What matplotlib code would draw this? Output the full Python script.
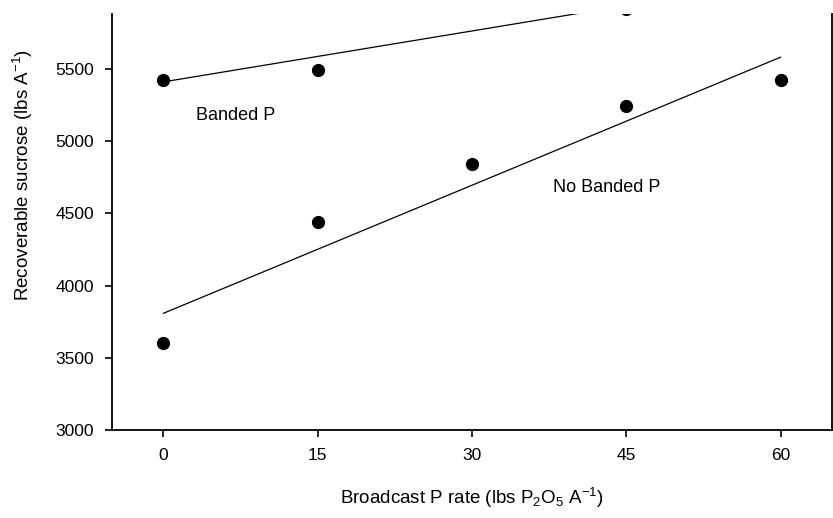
import matplotlib
matplotlib.use("Agg")
import matplotlib.pyplot as plt
import numpy as np

plt.rcParams['font.family'] = ['Liberation Sans', 'DejaVu Sans']
plt.rcParams['mathtext.fontset'] = 'custom'
plt.rcParams['mathtext.rm'] = 'Liberation Sans'
plt.rcParams['mathtext.it'] = 'Liberation Sans'

# Data
rates = [0, 15, 30, 45, 60]
no_banded = [3600, 4440, 4840, 5240, 5420]
banded_rates = [0, 15, 45]
banded = [5425, 5490, 5915]
# regression fits: intercept, slope
banded_fit = [5410, 11.75]
no_banded_fit = [3808, 29.55]
fit_range = [0, 60]
xticks = [0, 15, 30, 45, 60]
yticks = [3000, 3500, 4000, 4500, 5000, 5500]

fig = plt.figure(figsize=(8.33, 5.18), dpi=100)
ax = fig.add_axes([0.1345, 0.1699, 0.8643, 0.8031])

xf = np.array(fit_range, dtype=float)
ax.plot(xf, banded_fit[0] + banded_fit[1] * xf, color='black', lw=0.9)
ax.plot(xf, no_banded_fit[0] + no_banded_fit[1] * xf, color='black', lw=0.9)
ax.plot(rates, no_banded, 'o', color='black', ms=8.5)
ax.plot(banded_rates, banded, 'o', color='black', ms=8.5)

ax.text(3.2, 5175, 'Banded P', fontsize=13, va='center', ha='left')
ax.text(37.9, 4676, 'No Banded P', fontsize=13, va='center', ha='left')

ax.set_xlim(-5, 65)
ax.set_ylim(3000, 5880)
ax.set_xticks(xticks)
ax.set_yticks(yticks)
ax.tick_params(axis='both', direction='out', length=5, width=1.2, pad=8, labelsize=12.5)
ax.tick_params(axis='x', top=False)
ax.tick_params(axis='y', right=False)
ax.spines['top'].set_visible(False)
for s in ['left', 'bottom', 'right']:
    ax.spines[s].set_linewidth(1.3)

ax.set_xlabel(r'Broadcast P rate (lbs P$_2$O$_5$ A$^{-1}$)', fontsize=13.5)
ax.set_ylabel(r'Recoverable sucrose (lbs A$^{-1}$)', fontsize=13.5)
ax.xaxis.set_label_coords(0.5, -0.135)
ax.yaxis.set_label_coords(-0.107, 0.613)

fig.savefig('out.png', dpi=100)
